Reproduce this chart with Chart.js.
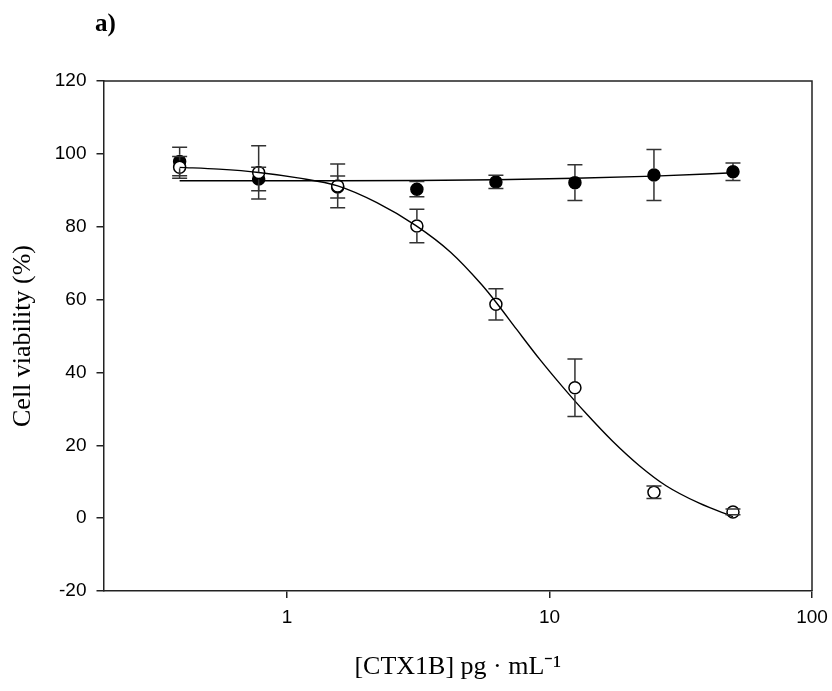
<!DOCTYPE html>
<html><head><meta charset="utf-8">
<script src="https://cdn.jsdelivr.net/npm/chart.js@4/dist/chart.umd.min.js"></script>
<style>
html,body{margin:0;padding:0;background:#fff;}
#wrap{position:relative;width:832px;height:691px;}
#panel{position:absolute;left:95px;top:9px;font:bold 25px "Liberation Serif",serif;color:#000;}
canvas{position:absolute;left:0;top:0;}
</style></head><body>
<div id="wrap"><canvas id="c" width="832" height="691"></canvas><div id="panel">a)</div></div>
<script>
// Concentrations (pg/mL)
const conc = [0.39, 0.78, 1.56, 3.125, 6.25, 12.5, 25, 50];
// Filled circles
const viabilityFilled = [97.9, 93.1, 90.9, 90.3, 92.3, 92.1, 94.2, 95.1];
const errFilled = [3.9, 3.2, 3.0, 2.1, 1.8, 4.9, 7.0, 2.4];
// Open circles
const viabilityOpen = [96.3, 94.9, 91.2, 80.2, 58.7, 35.8, 7.1, 1.7];
const errOpen = [3.0, 7.3, 6.0, 4.6, 4.3, 7.9, 1.7, 0.8];
// Fitted curve (open)
const fitX = [0.39, 0.55, 0.78, 1.1, 1.56, 2.2, 3.1, 4.2, 5.5, 6.3, 7.5, 9.2, 11.2, 13.8, 17.4, 22, 27.8, 37.2, 50];
const fitOpen = [96.3, 95.8, 94.9, 93.4, 91.2, 86.6, 80.3, 73.0, 64.2, 59.0, 51.8, 43.5, 36.1, 28.7, 21.1, 14.4, 8.9, 4.1, 0.4];
// Fitted line (filled)
const fitFilledX = [0.39, 1.56, 3.125, 6.25, 12.5, 25, 50];
const fitFilled = [92.6, 92.6, 92.7, 92.9, 93.3, 93.9, 94.8];
// Tick values
const xTicks = [1, 10, 100];
const yTicks = [-20, 0, 20, 40, 60, 80, 100, 120];

const AXIS = '#222';
const R = 6;

const errorBars = {
  id: 'errorBars',
  afterDatasetsDraw(chart) {
    const ctx = chart.ctx, xs = chart.scales.x, ys = chart.scales.y;
    const rr = R + 0.75;
    ctx.save();
    ctx.strokeStyle = '#333';
    ctx.lineWidth = 1.5;
    [[viabilityFilled, errFilled], [viabilityOpen, errOpen]].forEach(([vals, errs]) => {
      vals.forEach((v, i) => {
        const x = xs.getPixelForValue(conc[i]);
        const yc = ys.getPixelForValue(v);
        const yt = ys.getPixelForValue(v + errs[i]);
        const yb = ys.getPixelForValue(v - errs[i]);
        ctx.beginPath();
        if (yc - yt > rr) { ctx.moveTo(x, yt); ctx.lineTo(x, yc - rr); }
        if (yb - yc > rr) { ctx.moveTo(x, yc + rr); ctx.lineTo(x, yb); }
        ctx.moveTo(x - 7.5, yt); ctx.lineTo(x + 7.5, yt);
        ctx.moveTo(x - 7.5, yb); ctx.lineTo(x + 7.5, yb);
        ctx.stroke();
      });
    });
    ctx.restore();
  }
};

const frame = {
  id: 'frame',
  afterDraw(chart) {
    const {ctx, chartArea: a} = chart;
    ctx.save();
    ctx.strokeStyle = AXIS;
    ctx.lineWidth = 1.5;
    ctx.beginPath();
    ctx.moveTo(a.left, a.top); ctx.lineTo(a.right, a.top); ctx.lineTo(a.right, a.bottom);
    ctx.stroke();
    ctx.restore();
  }
};

new Chart(document.getElementById('c'), {
  type: 'scatter',
  data: {
    datasets: [
      { data: fitX.map((x, i) => ({x, y: fitOpen[i]})), showLine: true, pointRadius: 0,
        borderColor: '#000', borderWidth: 1.4, cubicInterpolationMode: 'monotone', fill: false },
      { data: fitFilledX.map((x, i) => ({x, y: fitFilled[i]})), showLine: true, pointRadius: 0,
        borderColor: '#000', borderWidth: 1.4, cubicInterpolationMode: 'monotone', fill: false },
      { data: conc.map((x, i) => ({x, y: viabilityOpen[i]})), pointRadius: R, pointBorderWidth: 1.5,
        pointBackgroundColor: '#fff', pointBorderColor: '#000' },
      { data: conc.map((x, i) => ({x, y: viabilityFilled[i]})), pointRadius: R, pointBorderWidth: 1.5,
        pointBackgroundColor: '#000', pointBorderColor: '#000' }
    ]
  },
  options: {
    responsive: false,
    devicePixelRatio: 1,
    animation: false,
    layout: { padding: { top: 81, right: 20, left: 0, bottom: 0 } },
    plugins: { legend: { display: false }, tooltip: { enabled: false } },
    scales: {
      x: {
        type: 'logarithmic', min: 0.2, max: 100,
        afterBuildTicks: s => { s.ticks = xTicks.map(v => ({value: v})); },
        afterFit: s => { s.height = 100; s.paddingRight = 0; s.paddingLeft = 0; },
        ticks: { callback: v => String(v), color: '#000', padding: 8, autoSkip: false, maxRotation: 0,
                 font: { family: '"Liberation Sans", Arial, sans-serif', size: 19 } },
        grid: { display: true, drawOnChartArea: false, drawTicks: true, tickLength: 7, color: AXIS, lineWidth: 1.5 },
        border: { display: true, color: AXIS, width: 1.5 },
        title: { display: true, text: '[CTX1B] pg · mL⁻¹', color: '#000', padding: { top: 0, bottom: 8 },
                 font: { family: '"Liberation Serif", "Times New Roman", serif', size: 26 } }
      },
      y: {
        min: -20, max: 120,
        afterBuildTicks: s => { s.ticks = yTicks.map(v => ({value: v})); },
        afterFit: s => { s.width = 103.5; },
        ticks: { color: '#000', padding: 10,
                 font: { family: '"Liberation Sans", Arial, sans-serif', size: 19 } },
        grid: { display: true, drawOnChartArea: false, drawTicks: true, tickLength: 7, color: AXIS, lineWidth: 1.5 },
        border: { display: true, color: AXIS, width: 1.5 },
        title: { display: true, text: 'Cell viability (%)', color: '#000', padding: { top: 8, bottom: 0 },
                 font: { family: '"Liberation Serif", "Times New Roman", serif', size: 26 } }
      }
    }
  },
  plugins: [errorBars, frame]
});
</script>
</body></html>
